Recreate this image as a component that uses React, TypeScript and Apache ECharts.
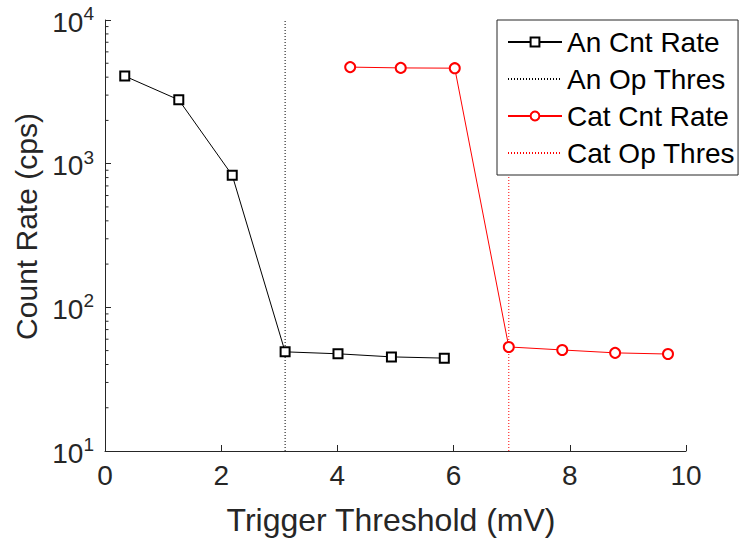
import React, { useEffect, useRef } from "react";
import * as echarts from "echarts";

const anX = [0.34, 1.27, 2.19, 3.1, 4.01, 4.93, 5.84];
const anY = [4070, 2780, 830, 49, 47.5, 45.2, 44.3];
const catX = [4.22, 5.09, 6.02, 6.95, 7.87, 8.78, 9.69];
const catY = [4700, 4640, 4620, 53, 50.5, 48.2, 47.3];
const anThres = 3.1;
const catThres = 6.95;
const yMin = 10;
const yMax = 10000;
const xTicks = [0, 2, 4, 6, 8, 10];
const minorMultipliers = [2, 3, 4, 5, 6, 7, 8, 9];
const decades = [10, 100, 1000];
const seriesNames = ["An Cnt Rate", "An Op Thres", "Cat Cnt Rate", "Cat Op Thres"];

const FONT = "'Liberation Sans', Arial, Helvetica, sans-serif";
const AXIS = "#262626";

export default function App() {
  const ref = useRef<HTMLDivElement>(null);
  useEffect(() => {
    if (!ref.current) return;
    const chart = echarts.init(ref.current, null, { renderer: "svg" });
    const minorVals: number[] = [];
    decades.forEach((d) => minorMultipliers.forEach((m) => minorVals.push(d * m)));
    const exps: Record<number, string> = { 10: "1", 100: "2", 1000: "3", 10000: "4" };
    chart.setOption({
      animation: false,
      backgroundColor: "#fff",
      textStyle: { fontFamily: FONT },
      grid: { left: 105, right: 54, top: 20, bottom: 90, containLabel: false },
      legend: {
        data: [
          { name: seriesNames[0] },
          { name: seriesNames[1], itemStyle: { opacity: 0 } },
          { name: seriesNames[2] },
          { name: seriesNames[3], itemStyle: { opacity: 0 } },
        ],
        orient: "vertical",
        left: 497,
        top: 20,
        padding: [8, 3, 8, 10],
        itemGap: 9,
        itemWidth: 54,
        itemHeight: 11,
        backgroundColor: "#fff",
        borderColor: AXIS,
        borderWidth: 1,
        borderRadius: 0,
        textStyle: { fontSize: 28, lineHeight: 28, color: "#000", fontFamily: FONT },
      },
      xAxis: {
        type: "value",
        min: xTicks[0],
        max: xTicks[xTicks.length - 1],
        interval: 2,
        name: "Trigger Threshold (mV)",
        nameLocation: "middle",
        nameGap: 53,
        nameTextStyle: { fontSize: 32, color: AXIS, fontFamily: FONT, padding: [0, 9, 0, 0] },
        axisLine: { show: true, lineStyle: { color: AXIS, width: 1 } },
        axisTick: { show: true, inside: true, length: 6, lineStyle: { color: AXIS } },
        axisLabel: { fontSize: 28, color: AXIS, margin: 10, fontFamily: FONT },
        splitLine: { show: false },
      },
      yAxis: {
        type: "log",
        logBase: 10,
        min: yMin,
        max: yMax,
        name: "Count Rate (cps)",
        nameLocation: "middle",
        nameGap: 55,
        nameTextStyle: { fontSize: 30, color: AXIS, fontFamily: FONT, padding: [0, 0, 0, 18] },
        axisLine: { show: true, lineStyle: { color: AXIS, width: 1 } },
        axisTick: { show: true, inside: true, length: 6, lineStyle: { color: AXIS } },
        axisLabel: {
          margin: 11,
          color: AXIS,
          formatter: (v: number) => `{b|10}{s|${exps[Math.round(v)] ?? ""}}`,
          rich: {
            b: { fontSize: 28, color: AXIS, fontFamily: FONT, verticalAlign: "bottom", lineHeight: 32 },
            s: { fontSize: 19, color: AXIS, fontFamily: FONT, verticalAlign: "top", lineHeight: 32 },
          },
        },
        splitLine: { show: false },
      },
      series: [
        {
          name: seriesNames[0],
          type: "line",
          data: anX.map((x, i) => [x, anY[i]]),
          symbol: "emptyRect",
          symbolSize: 9,
          color: "#000",
          lineStyle: { color: "#000", width: 1 },
          itemStyle: { color: "#000", borderWidth: 1.2 },
          z: 5,
        },
        {
          name: seriesNames[1],
          type: "line",
          data: [[anThres, yMin], [anThres, yMax]],
          symbol: "none",
          color: "#000",
          lineStyle: { color: "#000", width: 1, type: [1, 2] },
          itemStyle: { opacity: 0 },
          z: 3,
        },
        {
          name: seriesNames[2],
          type: "line",
          data: catX.map((x, i) => [x, catY[i]]),
          symbol: "emptyCircle",
          symbolSize: 10,
          color: "#ff0000",
          lineStyle: { color: "#ff0000", width: 1 },
          itemStyle: { color: "#ff0000", borderWidth: 1.2 },
          z: 5,
        },
        {
          name: seriesNames[3],
          type: "line",
          data: [[catThres, yMin], [catThres, yMax]],
          symbol: "none",
          color: "#ff0000",
          lineStyle: { color: "#ff0000", width: 1, type: [1, 2] },
          itemStyle: { opacity: 0 },
          z: 3,
        },
        {
          name: "minorTicks",
          type: "custom",
          silent: true,
          clip: false,
          data: minorVals.map((v) => [0, v]),
          renderItem: (params: any, api: any) => {
            const p = api.coord([0, api.value(1)]);
            return {
              type: "line",
              shape: { x1: p[0], y1: p[1], x2: p[0] + 3.5, y2: p[1] },
              style: { stroke: AXIS, lineWidth: 1 },
            };
          },
          z: 2,
        },
      ],
    });
    return () => chart.dispose();
  }, []);
  return <div ref={ref} style={{ width: 740, height: 541, position: "absolute", left: 0, top: 0 }} />;
}
